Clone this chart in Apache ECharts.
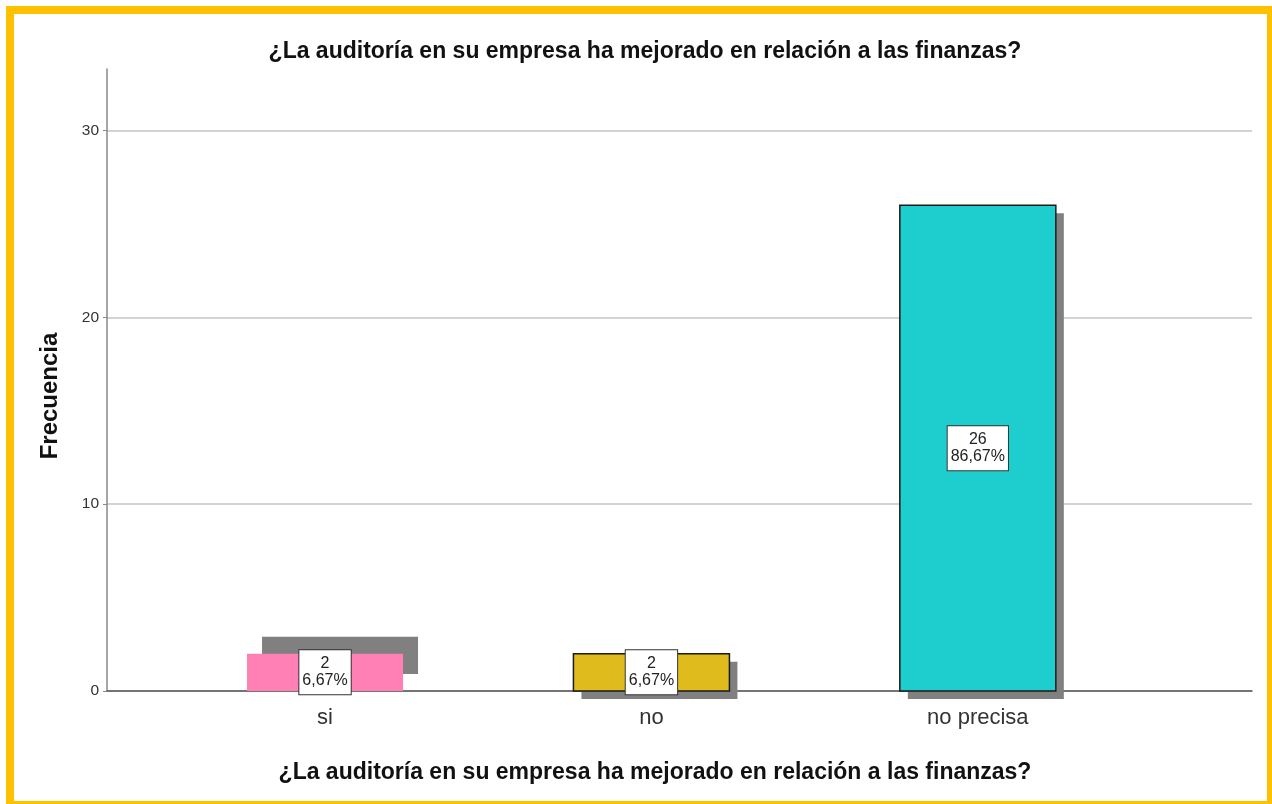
<!DOCTYPE html>
<html>
<head>
<meta charset="utf-8">
<script src="https://cdn.jsdelivr.net/npm/echarts@6/dist/echarts.min.js"></script>
<style>
	body { margin: 0; background: #fff; }
	#chart { position: absolute; left: 0; top: 0; width: 1272px; height: 804px; }
	/* marco amarillo */
	.marco {
		position: absolute; left: 6px; top: 6px; width: 1266px; height: 798px;
		box-sizing: border-box; pointer-events: none;
		border-top: 8px solid #FFC000; border-left: 8px solid #FFC000;
		border-right: 5px solid #FFC000; border-bottom: 3px solid #FFC000;
	}
</style>
</head>
<body>
<div id="chart"></div>
<div class="marco"></div>
<script>
// datos
const categorias = ['si', 'no', 'no precisa']
const frecuencias = [2, 2, 26]
const porcentajes = ['6,67%', '6,67%', '86,67%']
const yTicks = [0, 10, 20, 30]

const titulo = '¿La auditoría en su empresa ha mejorado en relación a las finanzas?'
const fuente = '"Liberation Sans", Arial, sans-serif'

// estilo de cada barra
const colores = ['#FF80B4', '#DFBB1E', '#1ECECE']
const bordes = [0, 1.5, 1.5]
const sombras = [[15, -17], [8, 8], [8, 8]]
const anchoBarra = 156

// barra con sombra solida y etiqueta en caja blanca
function dibujarBarra(params, api) {
	const i = api.value(0)
	const v = api.value(1)
	const base = api.coord([i, 0])
	const tope = api.coord([i, v])
	const x = base[0] - anchoBarra / 2
	const h = base[1] - tope[1]
	return {
		type: 'group',
		children: [
			{
				type: 'rect',
				shape: { x: x + sombras[i][0], y: tope[1] + sombras[i][1], width: anchoBarra, height: h },
				style: { fill: '#808080' },
			},
			{
				type: 'rect',
				shape: { x: x, y: tope[1], width: anchoBarra, height: h },
				style: { fill: colores[i], stroke: bordes[i] ? '#1a1a1a' : null, lineWidth: bordes[i] },
			},
			{
				type: 'text',
				x: base[0],
				y: (base[1] + tope[1]) / 2,
				style: {
					text: frecuencias[i] + '\n' + porcentajes[i],
					align: 'center',
					verticalAlign: 'middle',
					font: '16px ' + fuente,
					lineHeight: 17,
					fill: '#222',
					backgroundColor: '#fff',
					borderColor: '#333',
					borderWidth: 1,
					padding: [5, 3],
				},
			},
		],
	}
}

const myChart = echarts.init(document.getElementById('chart'))
myChart.setOption({
	animation: false,
	title: [
		{
			text: titulo,
			left: 640,
			top: 35,
			textAlign: 'center',
			textStyle: { fontFamily: fuente, fontSize: 23, fontWeight: 'bold', color: '#111' },
		},
		{
			text: titulo,
			left: 650,
			top: 756,
			textAlign: 'center',
			textStyle: { fontFamily: fuente, fontSize: 23, fontWeight: 'bold', color: '#111' },
		},
	],
	grid: { left: 107, right: 20, top: 69, bottom: 113 },
	xAxis: {
		type: 'value',
		min: -0.668,
		max: 2.84,
		splitLine: { show: false },
		axisLine: { onZero: false, lineStyle: { color: '#555', width: 1.5 } },
		axisTick: { show: false },
		axisLabel: {
			customValues: [0, 1, 2],
			formatter: (v) => categorias[Math.round(v)],
			fontFamily: fuente,
			fontSize: 22,
			color: '#333',
			margin: 16,
		},
	},
	yAxis: {
		type: 'value',
		min: 0,
		max: 33.3,
		name: 'Frecuencia',
		nameLocation: 'middle',
		nameGap: 45,
		nameTextStyle: { fontFamily: fuente, fontSize: 24, fontWeight: 'bold', color: '#111', padding: [0, 32, 0, 0] },
		axisLine: { show: true, onZero: false, lineStyle: { color: '#888', width: 1.5 } },
		axisTick: { show: true, customValues: yTicks, length: 4, lineStyle: { color: '#888' } },
		axisLabel: { customValues: yTicks, fontFamily: fuente, fontSize: 15.5, color: '#333', margin: 8 },
		splitLine: { show: true, customValues: yTicks, lineStyle: { color: '#c4c4c4', width: 1.5 } },
	},
	series: [
		{
			type: 'custom',
			renderItem: dibujarBarra,
			clip: false,
			encode: { x: 0, y: 1 },
			data: frecuencias.map((v, i) => [i, v]),
		},
	],
})
</script>
</body>
</html>
